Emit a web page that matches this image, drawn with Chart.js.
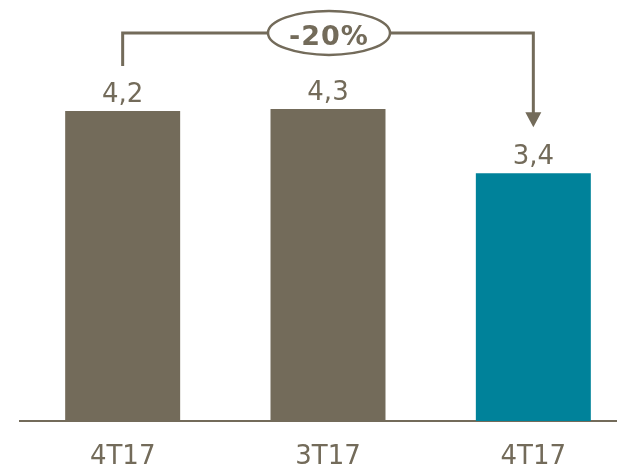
<!DOCTYPE html>
<html>
<head>
<meta charset="utf-8">
<script src="https://cdn.jsdelivr.net/npm/chart.js@4"></script>
<style>
  html, body { margin: 0; padding: 0; background: #fff; overflow: hidden; }
  #wrap { width: 636px; height: 465px; }
</style>
</head>
<body>
<div id="wrap"><canvas id="chart"></canvas></div>
<script>
  // ===== data =====
  const categories = ['4T17', '3T17', '4T17'];
  const values = [4.24, 4.27, 3.39];
  const barColors = ['#736b5a', '#736b5a', '#00829a'];
  const changeLabel = '-20%';

  const brown = '#736b5a';
  const fontFamily = '"DejaVu Sans", Verdana, sans-serif';
  const fmt = v => v.toFixed(1).replace('.', ',');

  // value labels above bars
  const valueLabels = {
    id: 'valueLabels',
    afterDatasetsDraw(chart) {
      const ctx = chart.ctx;
      const meta = chart.getDatasetMeta(0);
      ctx.save();
      ctx.font = '26px ' + fontFamily;
      ctx.fillStyle = brown;
      ctx.textAlign = 'center';
      ctx.textBaseline = 'alphabetic';
      meta.data.forEach((bar, i) => {
        ctx.fillText(fmt(values[i]), bar.x, bar.y - 9);
      });
      ctx.restore();
    }
  };

  // bracket with arrow from first to last bar
  const changeBracket = {
    id: 'changeBracket',
    afterDraw(chart) {
      const ctx = chart.ctx;
      const meta = chart.getDatasetMeta(0);
      const first = meta.data[0], last = meta.data[meta.data.length - 1];
      const mid = meta.data[1];
      const top = chart.scales.y.getPixelForValue(5.31);
      const leftEnd = first.y - 45;
      const tip = last.y - 46;
      ctx.save();
      ctx.strokeStyle = brown;
      ctx.fillStyle = brown;
      ctx.lineWidth = 3;
      ctx.beginPath();
      ctx.moveTo(first.x, leftEnd);
      ctx.lineTo(first.x, top);
      ctx.lineTo(last.x, top);
      ctx.lineTo(last.x, tip - 14);
      ctx.stroke();
      ctx.beginPath();
      ctx.moveTo(last.x - 8, tip - 15);
      ctx.lineTo(last.x + 8, tip - 15);
      ctx.lineTo(last.x, tip);
      ctx.closePath();
      ctx.fill();
      // ellipse with the change
      ctx.lineWidth = 2.5;
      ctx.beginPath();
      ctx.ellipse(mid.x + 1, top, 61, 22, 0, 0, Math.PI * 2);
      ctx.fillStyle = '#fff';
      ctx.fill();
      ctx.stroke();
      ctx.fillStyle = brown;
      ctx.font = 'bold 27px ' + fontFamily;
      ctx.letterSpacing = '1px';
      ctx.textAlign = 'center';
      ctx.textBaseline = 'alphabetic';
      ctx.fillText(changeLabel, mid.x + 1, top + 12);
      ctx.restore();
    }
  };

  new Chart(document.getElementById('chart'), {
    type: 'bar',
    data: {
      labels: categories,
      datasets: [{
        data: values,
        backgroundColor: barColors,
        borderWidth: 0,
        barPercentage: 0.56,
        categoryPercentage: 1
      }]
    },
    options: {
      responsive: true,
      maintainAspectRatio: false,
      animation: false,
      layout: { padding: { left: 20, top: 0, right: 0, bottom: 0 } },
      plugins: { legend: { display: false }, tooltip: { enabled: false } },
      scales: {
        x: {
          grid: { display: false, drawTicks: false },
          border: { display: true, color: brown, width: 2 },
          ticks: {
            color: brown,
            padding: 21,
            font: { family: fontFamily, size: 26 }
          },
          afterFit(scale) { scale.height = 44; }
        },
        y: {
          display: false,
          min: 0,
          max: 5.76
        }
      }
    },
    plugins: [valueLabels, changeBracket]
  });
</script>
</body>
</html>
